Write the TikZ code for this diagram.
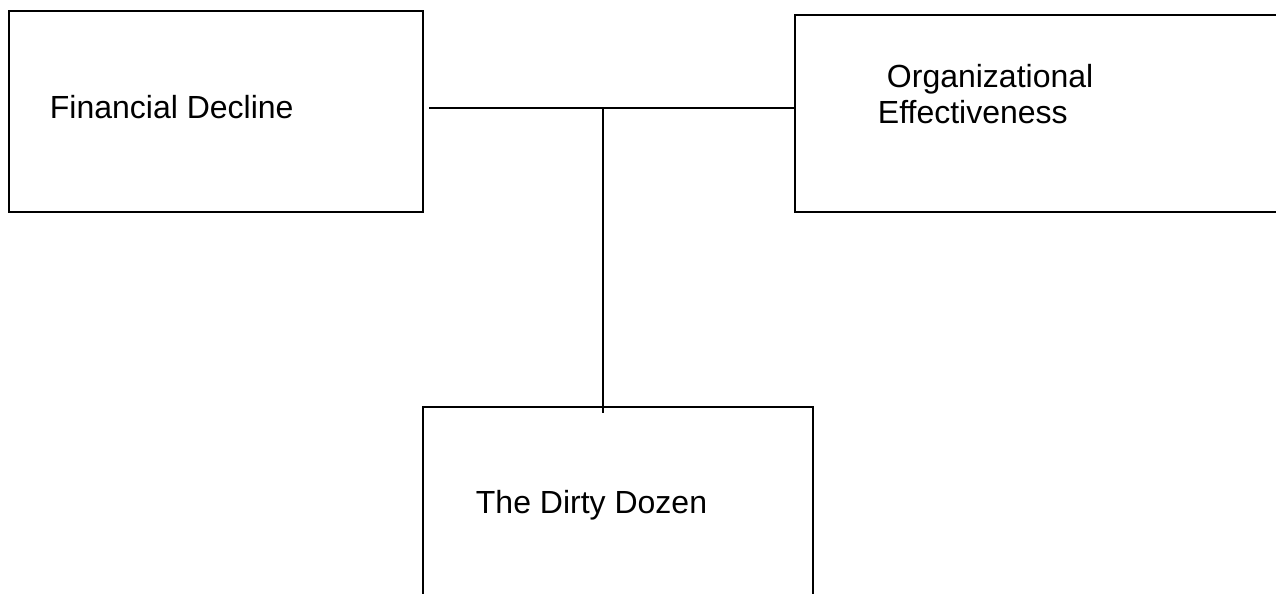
\documentclass[tikz,border=0pt]{standalone}
\usepackage{fontspec}
\setmainfont{Liberation Sans}
\usetikzlibrary{positioning}
\tikzset{box/.style = {draw, rectangle, inner sep = 0},
  lbl/.style = {inner sep = 0, anchor = base west, font = \fontsize{24}{27}\selectfont}}

\begin{document}
\begin{tikzpicture}[x=0.75pt, y=-0.75pt, line width = 1.4pt]
    \useasboundingbox (0,0) rectangle (1276,593);
    \clip (0,0) rectangle (1276,593);

    \node[box, minimum width = 310.5pt, minimum height = 150.75pt] (fin) at (216,111.5) {};
    \node[box, minimum width = 371.25pt, minimum height = 147.75pt] (org) at (1042.5,113.5) {};
    \node[box, minimum width = 292.5pt, minimum height = 142.5pt] (dirty) at (618,502) {};

    \node[lbl] (finlbl) at (49,118) {Financial Decline};
    \node[lbl] (orglbl) at (886,87) {Organizational};
    \node[lbl] (efflbl) at (877,123) {Effectiveness};
    \node[lbl] (dirtylbl) at (475,513) {The Dirty Dozen};

    \coordinate (start) at (429,108);
    \coordinate (jn) at (603,108);
    \coordinate (tip) at (603,413);
    \draw (start) -- (start -| org.west);
    \draw (jn) -- (tip);
  \end{tikzpicture}
\end{document}
